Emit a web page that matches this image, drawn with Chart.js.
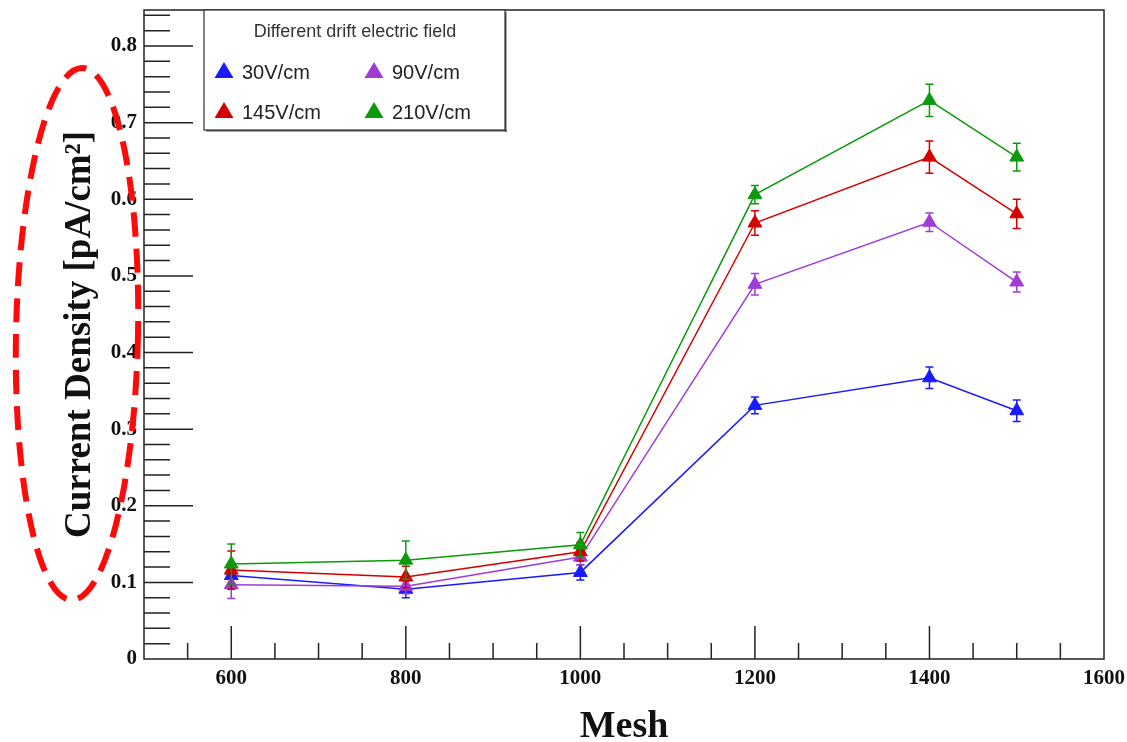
<!DOCTYPE html>
<html>
<head>
<meta charset="utf-8">
<script src="https://cdn.jsdelivr.net/npm/chart.js@4.4.1/dist/chart.umd.min.js"></script>
<style>
  html, body { margin: 0; padding: 0; background: #fff; }
  #wrap { width: 1127px; height: 742px; }
</style>
</head>
<body>
<div id="wrap"><canvas id="meshChart" width="1127" height="742"></canvas></div>
<script>
// mesh values (x) and current density per drift field
const meshValues = [600, 800, 1000, 1200, 1400, 1500];
const seriesNames = ['30V/cm', '90V/cm', '145V/cm', '210V/cm'];
const seriesColors = ['#1a1aff', '#a03cd6', '#d40000', '#0c9a0c'];

const density30 = [0.109, 0.091, 0.113, 0.331, 0.367, 0.324];
const density90 = [0.097, 0.095, 0.133, 0.489, 0.570, 0.492];
const density145 = [0.116, 0.107, 0.140, 0.569, 0.655, 0.581];
const density210 = [0.124, 0.129, 0.149, 0.606, 0.729, 0.655];

const err30 = [0.010, 0.011, 0.010, 0.011, 0.014, 0.014];
const err90 = [0.018, 0.010, 0.010, 0.014, 0.012, 0.013];
const err145 = [0.025, 0.014, 0.012, 0.016, 0.021, 0.019];
const err210 = [0.026, 0.025, 0.016, 0.012, 0.021, 0.018];

const xTickValues = [600, 800, 1000, 1200, 1400, 1600];
const yTickValues = [0, 0.1, 0.2, 0.3, 0.4, 0.5, 0.6, 0.7, 0.8];
const legendTitle = 'Different drift electric field';

const allValues = [density30, density90, density145, density210];
const allErrors = [err30, err90, err145, err210];

const serif = '"Liberation Serif", "Times New Roman", serif';
const sans = '"Liberation Sans", Arial, sans-serif';

const datasets = seriesNames.map((name, k) => ({
  label: name,
  data: meshValues.map((m, i) => ({x: m, y: allValues[k][i]})),
  errors: allErrors[k],
  borderColor: seriesColors[k],
  backgroundColor: seriesColors[k],
  borderWidth: 1.5,
  pointStyle: 'triangle',
  pointRadius: 8,
  pointBorderWidth: 1,
  pointBorderColor: seriesColors[k],
  pointBackgroundColor: seriesColors[k],
  tension: 0,
  order: 3 - k
}));

// error bars, drawn just before each dataset's line and markers
const errorBars = {
  id: 'errorBars',
  beforeDatasetDraw(chart, args) {
    const ds = chart.data.datasets[args.index];
    const yScale = chart.scales.y;
    const ctx = chart.ctx;
    ctx.save();
    ctx.strokeStyle = ds.borderColor;
    ctx.lineWidth = 1.5;
    args.meta.data.forEach((pt, i) => {
      const v = ds.data[i].y, e = ds.errors[i];
      const y1 = yScale.getPixelForValue(v - e);
      const y2 = yScale.getPixelForValue(v + e);
      ctx.beginPath();
      ctx.moveTo(pt.x, y1); ctx.lineTo(pt.x, y2);
      ctx.moveTo(pt.x - 4, y1); ctx.lineTo(pt.x + 4, y1);
      ctx.moveTo(pt.x - 4, y2); ctx.lineTo(pt.x + 4, y2);
      ctx.stroke();
    });
    ctx.restore();
  }
};

// ROOT style frame with inward ticks
const rootFrame = {
  id: 'rootFrame',
  afterDraw(chart) {
    const {ctx, chartArea: a, scales: {x, y}} = chart;
    ctx.save();
    ctx.strokeStyle = '#222';
    ctx.lineWidth = 1.5;
    ctx.strokeRect(a.left, a.top, a.right - a.left, a.bottom - a.top);
    ctx.beginPath();
    for (let m = 550; m < 1600; m += 50) {
      const px = x.getPixelForValue(m);
      const len = (m % 200 === 0) ? 33 : 16;
      ctx.moveTo(px, a.bottom); ctx.lineTo(px, a.bottom - len);
    }
    for (let j = 1; j <= 42; j++) {
      const v = j * 0.02;
      const py = y.getPixelForValue(v);
      const len = (j % 5 === 0) ? 49 : 26;
      ctx.moveTo(a.left, py); ctx.lineTo(a.left + len, py);
    }
    ctx.stroke();
    ctx.restore();
  }
};

function triangle(ctx, cx, cy, r, color) {
  ctx.fillStyle = color;
  ctx.beginPath();
  ctx.moveTo(cx, cy - r);
  ctx.lineTo(cx + r * 0.95, cy + r * 0.6);
  ctx.lineTo(cx - r * 0.95, cy + r * 0.6);
  ctx.closePath();
  ctx.fill();
}

// legend box inside the frame
const boxLegend = {
  id: 'boxLegend',
  afterDraw(chart) {
    const {ctx, chartArea: a} = chart;
    const left = a.left + 60, top = a.top, w = 301, h = 120;
    ctx.save();
    ctx.fillStyle = '#fff';
    ctx.fillRect(left, top, w, h);
    ctx.fillStyle = '#555';
    ctx.fillRect(left + 2, top + h, w, 1.5);
    ctx.fillRect(left + w, top + 2, 1.5, h);
    ctx.strokeStyle = '#333';
    ctx.lineWidth = 1.2;
    ctx.strokeRect(left, top, w, h);
    ctx.fillStyle = '#333';
    ctx.font = '18px ' + sans;
    ctx.textAlign = 'center';
    ctx.textBaseline = 'middle';
    ctx.fillText(legendTitle, left + 151, top + 22);
    ctx.textAlign = 'left';
    ctx.font = '20px ' + sans;
    chart.data.datasets.forEach((ds, k) => {
      const col = k % 2, row = Math.floor(k / 2);
      const tx = left + 20 + col * 150, ty = top + 62 + row * 40;
      triangle(ctx, tx, ty, 10, ds.borderColor);
      ctx.fillStyle = '#222';
      ctx.fillText(ds.label, tx + 18, ty + 1);
    });
    ctx.restore();
  }
};

// dashed red ellipse around the y axis title
const markEllipse = {
  id: 'markEllipse',
  afterDraw(chart) {
    const ctx = chart.ctx;
    ctx.save();
    ctx.strokeStyle = '#ff0a0a';
    ctx.lineWidth = 6;
    ctx.setLineDash([24, 12]);
    ctx.beginPath();
    ctx.ellipse(77, 334, 61, 266, 0.02, 0, Math.PI * 2);
    ctx.stroke();
    ctx.restore();
  }
};

function noPad(s) {
  s.paddingTop = 0; s.paddingBottom = 0; s.paddingLeft = 0; s.paddingRight = 0;
}

new Chart(document.getElementById('meshChart').getContext('2d'), {
  type: 'line',
  data: {datasets},
  options: {
    responsive: false,
    animation: false,
    devicePixelRatio: 1,
    layout: {padding: {top: 10, right: 23, bottom: 0, left: 0}},
    plugins: {legend: {display: false}, tooltip: {enabled: false}},
    scales: {
      x: {
        type: 'linear',
        min: 500,
        max: 1600,
        afterBuildTicks: s => { s.ticks = xTickValues.map(v => ({value: v})); },
        afterFit: s => { s.height = 83; noPad(s); },
        grid: {display: false, drawTicks: false, tickLength: 0},
        border: {display: false},
        ticks: {
          color: '#111', padding: 7, maxRotation: 0, autoSkip: false,
          font: {family: serif, size: 21, weight: 'bold'},
          callback: v => String(v)
        },
        title: {
          display: true, text: 'Mesh', color: '#111',
          font: {family: serif, size: 38, weight: 'bold', lineHeight: 0.8},
          padding: {top: 0, bottom: 0}
        }
      },
      y: {
        type: 'linear',
        min: 0,
        max: 0.847,
        afterBuildTicks: s => { s.ticks = yTickValues.map(v => ({value: v})); },
        afterFit: s => { s.width = 144; noPad(s); },
        grid: {display: false, drawTicks: false, tickLength: 0},
        border: {display: false},
        ticks: {
          color: '#111', padding: 7,
          font: {family: serif, size: 21, weight: 'bold'},
          callback: v => (v === 0 ? '0' : v.toFixed(1))
        },
        title: {
          display: true, text: 'Current Density [pA/cm²]', color: '#111',
          font: {family: serif, size: 37, weight: 'bold', lineHeight: 1},
          padding: {top: 62, bottom: 0}
        }
      }
    }
  },
  plugins: [errorBars, rootFrame, boxLegend, markEllipse]
});
</script>
</body>
</html>
